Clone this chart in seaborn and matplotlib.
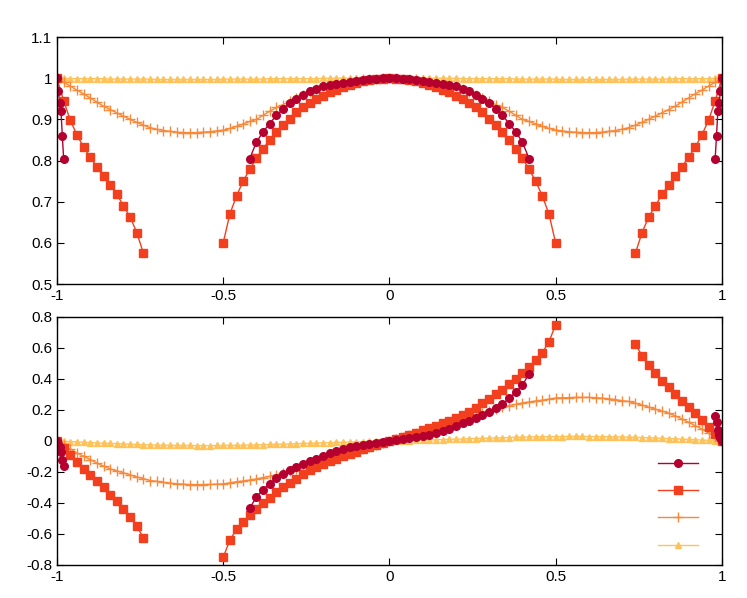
import numpy as np
import matplotlib
matplotlib.use("Agg")
import matplotlib.pyplot as plt
import seaborn as sns
from matplotlib.lines import Line2D

plt.rcParams["font.family"] = "Liberation Sans"

# ---- data (positive half; curves are symmetric (top) / antisymmetric (bottom) in x) ----
x_full_pos = [round(0.02 * i, 2) for i in range(51)]

sq_mid_x_pos = [round(0.02 * i, 2) for i in range(26)]
sq_mid_re_pos = [1.0, .999, .998, .996, .993, .989, .984, .978, .972, .966, .958, .950, .940,
                 .930, .917, .902, .886, .869, .850, .829, .806, .779, .750, .714, .670, .600]
sq_mid_im_pos = [0, .013, .027, .040, .054, .068, .083, .098, .113, .129, .146, .167, .19,
                 .216, .242, .27, .30, .33, .368, .40, .437, .476, .52, .57, .64, .75]
sq_out_x_pos = [.74, .76, .78, .80, .82, .84, .86, .88, .90, .92, .94, .96, .98, 1.0]
sq_out_re_pos = [.575, .625, .663, .69, .718, .74, .762, .785, .808, .833, .862, .898, .945, 1.0]
sq_out_im_pos = [.625, .55, .49, .44, .39, .35, .30, .26, .22, .18, .135, .09, .045, 0]

ci_mid_x_pos = [round(0.02 * i, 2) for i in range(22)]
ci_mid_re_pos = [1.0, .9995, .999, .998, .996, .994, .992, .989, .986, .983, .980, .975, .968,
                 .96, .95, .94, .925, .91, .89, .87, .845, .805]
ci_mid_im_pos = [0, .006, .012, .018, .025, .032, .04, .054, .067, .08, .097, .113, .13,
                 .147, .167, .188, .212, .238, .275, .314, .36, .433]
ci_out_x_pos = [.98, .984, .988, .992, .996, 1.0]
ci_out_re_pos = [.805, .86, .92, .94, .97, 1.0]
ci_out_im_pos = [.16, .12, .07, .04, .02, 0]

pl_re_pos = [1, .9995, .999, .998, .997, .996, .993, .990, .987, .983, .98, .973, .967, .960,
             .952, .944, .936, .929, .920, .910, .90, .895, .889, .883, .878, .874, .872, .870,
             .869, .868, .868, .868, .869, .871, .873, .876, .880, .886, .893, .900, .908, .916,
             .924, .932, .942, .952, .962, .971, .981, .990, 1.0]
pl_im_pos = [0, .013, .026, .039, .052, .065, .078, .091, .104, .117, .130, .143, .156, .169,
             .182, .195, .207, .219, .228, .236, .245, .252, .258, .263, .270, .277, .279, .280,
             .281, .281, .281, .279, .276, .272, .267, .260, .255, .243, .232, .219, .205, .193,
             .180, .162, .142, .120, .099, .077, .052, .026, 0]

tr_re_pos = [1.0] * 11 + [.999] * 8 + [.998] * 7 + [.997] * 10 + [.998] * 7 + [.999] * 6 + [1.0] * 2
tr_im_pos = [0, .001, .002, .003, .004, .005, .007, .008, .009, .011, .012, .013, .015, .016,
             .017, .019, .020, .021, .022, .024, .025, .026, .027, .028, .028, .029, .029, .030,
             .030, .030, .029, .029, .028, .028, .027, .026, .025, .024, .022, .021, .019, .017,
             .016, .014, .012, .010, .008, .006, .004, .002, 0]


def sym(xp, yp, odd):
    xp = np.asarray(xp, float); yp = np.asarray(yp, float)
    xn = -xp[::-1]; yn = (-yp[::-1]) if odd else yp[::-1]
    return np.concatenate([xn, xp[1:] if xp[0] == 0 else xp]), np.concatenate([yn, yp[1:] if xp[0] == 0 else yp])


def mirror_only(xp, yp, odd):
    xp = np.asarray(xp, float); yp = np.asarray(yp, float)
    return (-xp[::-1], (-yp[::-1]) if odd else yp[::-1]), (xp, yp)


colors = {"ci": "#b5002f", "sq": "#f2401f", "pl": "#f9893a", "tr": "#fdc35a"}
markers = {"ci": "o", "sq": "s", "pl": "+", "tr": "^"}
msize = {"ci": 5.5, "sq": 5.5, "pl": 6.5, "tr": 5}

fig = plt.figure(figsize=(7.47, 5.98), dpi=100)
ax1 = fig.add_axes([0.0763, 0.525, 0.890, 0.413])
ax2 = fig.add_axes([0.0763, 0.0552, 0.890, 0.4147])


def draw(ax, key, x, y):
    sns.lineplot(x=x, y=y, ax=ax, color=colors[key], marker=markers[key], markersize=msize[key],
                 markeredgecolor=colors[key], markeredgewidth=1,
                 linewidth=1, estimator=None, sort=False, legend=False)


for ax, part in [(ax1, "re"), (ax2, "im")]:
    odd = part == "im"
    x, y = sym(x_full_pos, tr_re_pos if part == "re" else tr_im_pos, odd)
    draw(ax, "tr", x, y)
    x, y = sym(x_full_pos, pl_re_pos if part == "re" else pl_im_pos, odd)
    draw(ax, "pl", x, y)
    x, y = sym(sq_mid_x_pos, sq_mid_re_pos if part == "re" else sq_mid_im_pos, odd)
    draw(ax, "sq", x, y)
    for (xs, ys) in mirror_only(sq_out_x_pos, sq_out_re_pos if part == "re" else sq_out_im_pos, odd):
        draw(ax, "sq", xs, ys)
    x, y = sym(ci_mid_x_pos, ci_mid_re_pos if part == "re" else ci_mid_im_pos, odd)
    draw(ax, "ci", x, y)
    for (xs, ys) in mirror_only(ci_out_x_pos, ci_out_re_pos if part == "re" else ci_out_im_pos, odd):
        draw(ax, "ci", xs, ys)

ax1.set_ylim(0.5, 1.1)
ax1.set_yticks([0.5, 0.6, 0.7, 0.8, 0.9, 1.0, 1.1])
ax1.set_yticklabels(["0.5", "0.6", "0.7", "0.8", "0.9", "1", "1.1"])
ax2.set_ylim(-0.8, 0.8)
ax2.set_yticks([-0.8, -0.6, -0.4, -0.2, 0, 0.2, 0.4, 0.6, 0.8])
ax2.set_yticklabels(["-0.8", "-0.6", "-0.4", "-0.2", "0", "0.2", "0.4", "0.6", "0.8"])
for ax in (ax1, ax2):
    ax.set_xlim(-1, 1)
    ax.set_xticks([-1, -0.5, 0, 0.5, 1])
    ax.set_xticklabels(["-1", "-0.5", "0", "0.5", "1"])
    ax.tick_params(direction="in", top=True, right=True, labelsize=11, length=5)
    ax.set_xlabel(""); ax.set_ylabel("")
    for s in ax.spines.values():
        s.set_linewidth(1)

handles = [Line2D([], [], color=colors[k], marker=markers[k], markersize=msize[k], linewidth=1)
           for k in ["ci", "sq", "pl", "tr"]]
ax2.legend(handles, ["", "", "", ""], loc="lower right", frameon=False, handlelength=2.9,
           labelspacing=0.95, bbox_to_anchor=(1.0, 0.0))

fig.savefig("out.png", dpi=100)
